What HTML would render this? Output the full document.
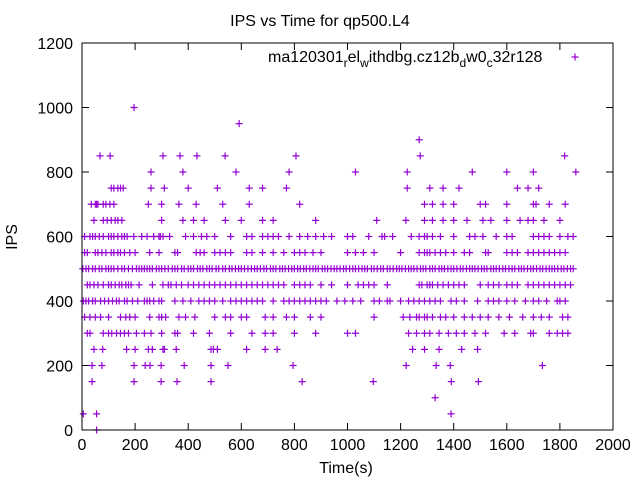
<!DOCTYPE html>
<html><head><meta charset="utf-8"><style>
body{margin:0;background:#fff}
svg{display:block;font-family:"Liberation Sans",sans-serif}
</style></head><body>
<svg id="chart" width="640" height="480">
<text x="320" y="26" font-size="16" text-anchor="middle">IPS vs Time for qp500.L4</text>
<text x="346" y="473" font-size="16" text-anchor="middle">Time(s)</text>
<text transform="translate(17,237) rotate(-90)" font-size="16" text-anchor="middle">IPS</text>
<g id="ticks"></g>
<g id="pts"></g>
<rect x="82" y="43" width="531" height="387" fill="none" stroke="#000" stroke-width="1"/>
<g>
<text x="268" y="62" font-size="16">ma120301<tspan font-size="12" dy="5">r</tspan><tspan dy="-5">el</tspan><tspan font-size="12" dy="5">w</tspan><tspan dy="-5">ithdbg.cz12b</tspan><tspan font-size="12" dy="5">d</tspan><tspan dy="-5">w0</tspan><tspan font-size="12" dy="5">c</tspan><tspan dy="-5">32r128</tspan></text>
<path d="M571.5,57H578.5M575,53.5V60.5" stroke="#9400d3" stroke-width="1.2"/>
</g>
</svg>
<script>
const xTicks=[0,200,400,600,800,1000,1200,1400,1600,1800,2000];
const yTicks=[0,200,400,600,800,1000,1200];
const levels=[0,50,100,150,200,250,300,350,400,450,500,550,600,650,700,750,800,850,900,950,1000];
const times={
0:[55],
50:[5,55,1390],
100:[1330],
150:[38,196,298,358,486,829,1097,1391,1493],
200:[38,75,196,238,256,298,385,486,550,795,1221,1334,1387,1734],
250:[45,78,168,200,250,265,305,310,355,486,495,510,620,690,735,1245,1290,1345,1430,1490],
300:[20,30,80,100,112,130,145,160,175,205,235,260,300,350,360,420,480,560,640,690,720,800,880,1000,1030,1230,1260,1290,1310,1345,1380,1410,1440,1480,1520,1590,1630,1690,1700,1760,1790,1810,1830],
350:[10,30,50,70,100,145,165,180,200,255,290,300,315,365,390,425,500,540,560,600,620,690,720,770,800,860,900,1100,1210,1235,1260,1270,1290,1300,1320,1350,1370,1400,1440,1470,1500,1530,1570,1610,1660,1700,1730,1760,1810,1830],
400:[5,15,25,40,50,70,85,100,115,130,140,160,170,190,210,235,245,255,270,290,300,350,380,410,440,460,480,500,530,560,580,600,620,640,660,680,720,760,780,800,820,840,860,880,900,920,960,990,1020,1050,1100,1120,1150,1160,1200,1230,1250,1270,1290,1310,1330,1350,1390,1410,1440,1490,1530,1550,1570,1600,1630,1670,1700,1720,1750,1790,1800,1820],
450:[20,30,45,60,80,100,110,125,140,150,165,175,185,215,265,305,325,335,355,375,400,420,440,460,480,500,520,540,560,580,600,620,640,660,680,700,720,740,760,800,820,840,860,900,940,1000,1040,1060,1080,1100,1150,1270,1280,1300,1310,1320,1340,1360,1380,1400,1420,1440,1500,1530,1550,1570,1600,1620,1640,1680,1700,1720,1740,1760,1780,1800,1820,1840],
500:[3,15,25,40,50,65,75,90,100,110,120,135,150,160,175,190,205,215,225,235,245,255,265,280,290,300,312,325,340,350,360,375,385,400,410,420,435,445,455,470,480,490,505,515,530,540,555,565,578,590,600,612,625,638,650,660,672,685,695,710,720,730,745,755,765,778,790,800,812,822,835,845,858,870,880,890,905,915,925,938,950,960,972,985,995,1008,1020,1030,1042,1055,1065,1075,1090,1100,1112,1125,1135,1150,1160,1172,1185,1195,1205,1218,1230,1240,1250,1262,1275,1285,1295,1310,1320,1330,1345,1355,1365,1378,1390,1400,1412,1425,1435,1448,1460,1470,1480,1492,1505,1515,1525,1540,1550,1560,1572,1585,1595,1608,1620,1630,1645,1655,1665,1678,1690,1700,1712,1725,1735,1748,1760,1770,1780,1792,1805,1815,1828,1840,1850],
550:[10,20,50,60,75,90,110,120,135,145,160,180,200,255,290,350,360,430,445,460,500,520,540,560,620,640,680,720,760,800,820,840,870,900,1000,1030,1060,1100,1200,1270,1290,1300,1310,1330,1350,1370,1400,1440,1460,1520,1530,1600,1620,1640,1680,1700,1720,1740,1760,1780,1800,1820],
600:[10,30,40,50,65,80,100,110,120,135,150,160,170,195,225,245,270,290,295,305,330,390,420,450,470,500,560,620,640,680,700,720,740,780,820,850,880,910,940,1000,1020,1080,1130,1140,1170,1240,1270,1290,1300,1320,1350,1400,1460,1480,1510,1560,1600,1620,1700,1720,1740,1760,1800,1830,1850],
650:[45,80,95,110,125,135,150,300,380,420,460,540,600,680,720,880,1110,1220,1290,1320,1360,1400,1450,1510,1540,1600,1650,1680,1700,1740,1800],
700:[35,50,55,60,80,90,105,120,250,300,365,430,530,630,820,1290,1320,1360,1400,1500,1520,1600,1700,1710,1760,1820],
750:[110,120,135,145,155,260,310,400,510,630,680,770,1225,1310,1360,1420,1640,1680,1720],
800:[260,380,580,780,1030,1225,1470,1600,1700,1860],
850:[68,106,305,369,433,539,806,1274,1818],
900:[1270],
950:[592],
1000:[196]
};
const X=v=>82+v*531/2000;
const Y=v=>430-v*387/1200;
const NS="http://www.w3.org/2000/svg";
const tg=document.getElementById('ticks');
function ln(g,x1,y1,x2,y2,c,w){const l=document.createElementNS(NS,'line');l.setAttribute('x1',x1);l.setAttribute('y1',y1);l.setAttribute('x2',x2);l.setAttribute('y2',y2);l.setAttribute('stroke',c);l.setAttribute('stroke-width',w);g.appendChild(l);return l;}
xTicks.forEach(t=>{const x=X(t);
 const a=ln(tg,x,430,x,423,'#000',1);
 
 
 const b=ln(tg,x,43,x,50,'#000',1);
 
 
 const tx=document.createElementNS(NS,'text');tx.setAttribute('x',x);tx.setAttribute('y',450);tx.setAttribute('font-size','16');tx.setAttribute('text-anchor','middle');tx.textContent=t;
 
 
 tg.appendChild(tx);});
yTicks.forEach(t=>{const y=Y(t);
 const a=ln(tg,82,y,89,y,'#000',1);
 
 
 const b=ln(tg,613,y,606,y,'#000',1);
 
 
 const tx=document.createElementNS(NS,'text');tx.setAttribute('x',73);tx.setAttribute('y',y+6);tx.setAttribute('font-size','16');tx.setAttribute('text-anchor','end');tx.textContent=t;
 
 
 tg.appendChild(tx);});
const pg=document.getElementById('pts');
levels.forEach(lv=>{(times[lv]||[]).forEach(t=>{const x=X(t),y=Y(lv);
 const p=document.createElementNS(NS,'path');
 p.setAttribute('d',`M${x-3.5},${y}H${x+3.5}M${x},${y-3.5}V${y+3.5}`);
 p.setAttribute('stroke','#9400d3');p.setAttribute('stroke-width','1.2');
 
 
 pg.appendChild(p);});});
</script>
</body></html>
